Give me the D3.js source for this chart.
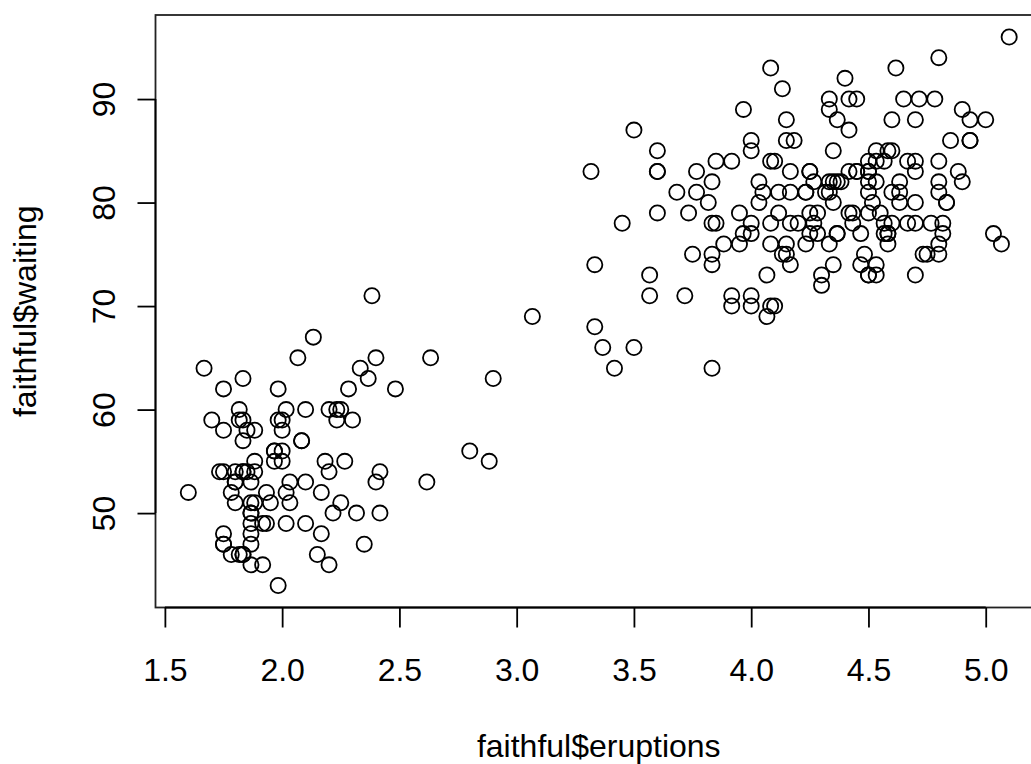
<!DOCTYPE html>
<html>
<head>
<meta charset="utf-8">
<script src="https://cdn.jsdelivr.net/npm/d3@7"></script>
<style>
  html, body { margin: 0; padding: 0; background: #fff; }
  svg { display: block; }
  text { font-family: "Liberation Sans", Arial, Helvetica, sans-serif; fill: #000; }
</style>
</head>
<body>
<svg id="chart" width="1031" height="764"></svg>
<script>
// Old Faithful geyser data (R's faithful)
const eruptions = [3.600,1.800,3.333,2.283,4.533,2.883,4.700,3.600,1.950,4.350,1.833,3.917,4.200,1.750,4.700,2.167,1.750,4.800,1.600,4.250,1.800,1.750,3.450,3.067,4.533,3.600,1.967,4.083,3.850,4.433,4.300,4.467,3.367,4.033,3.833,2.017,1.867,4.833,1.833,4.783,4.350,1.883,4.567,1.750,4.533,3.317,3.833,2.100,4.633,2.000,4.800,4.716,1.833,4.833,1.733,4.883,3.717,1.667,4.567,4.317,2.233,4.500,1.750,4.800,1.817,4.400,4.167,4.700,2.067,4.700,4.033,1.967,4.500,4.000,1.983,5.067,2.017,4.567,3.883,3.600,4.133,4.333,4.100,2.633,4.067,4.933,3.950,4.517,2.167,4.000,2.200,4.333,1.867,4.817,1.833,4.300,4.667,3.750,1.867,4.900,2.483,4.367,2.100,4.500,4.050,1.867,4.700,1.783,4.850,3.683,4.733,2.300,4.900,4.417,1.700,4.633,2.317,4.600,1.817,4.417,2.617,4.067,4.250,1.967,4.600,3.767,1.917,4.500,2.267,4.650,1.867,4.167,2.800,4.333,1.833,4.383,1.883,4.933,2.033,3.733,4.233,2.233,4.533,4.817,4.333,1.983,4.633,2.017,5.100,1.800,5.033,4.000,2.400,4.600,3.567,4.000,4.500,4.083,1.800,3.967,2.200,4.150,2.000,3.833,3.500,4.583,2.367,5.000,1.933,4.617,1.917,2.083,4.583,3.333,4.167,4.333,4.500,2.417,4.000,4.167,1.883,4.583,4.250,3.767,2.033,4.433,4.083,1.833,4.417,2.183,4.800,1.833,4.800,4.100,3.966,4.233,3.500,4.366,2.250,4.667,2.100,4.350,4.133,1.867,4.600,1.783,4.367,3.850,1.933,4.500,2.383,4.700,1.867,3.833,3.417,4.233,2.400,4.800,2.000,4.150,1.867,4.267,1.750,4.483,4.000,4.117,4.083,4.267,3.917,4.550,4.083,2.417,4.183,2.217,4.450,1.883,1.850,4.283,3.950,2.333,4.150,2.350,4.933,2.900,4.583,3.833,2.083,4.367,2.133,4.350,2.200,4.450,3.567,4.500,4.150,3.817,3.917,4.450,2.000,4.283,4.767,4.533,1.850,4.250,1.983,2.250,4.750,4.117,2.150,4.417,1.817,4.467];
const waiting = [79,54,74,62,85,55,88,85,51,85,54,84,78,47,83,52,62,84,52,79,51,47,78,69,74,83,55,76,78,79,73,77,66,80,74,52,48,80,59,90,80,58,84,58,73,83,64,53,82,59,75,90,54,80,54,83,71,64,77,81,59,84,48,82,60,92,78,78,65,73,82,56,79,71,62,76,60,78,76,83,75,82,70,65,73,88,76,80,48,86,60,90,50,78,63,72,84,75,51,82,62,88,49,83,81,47,84,52,86,81,75,59,89,79,59,81,50,85,59,87,53,69,77,56,88,81,45,82,55,90,45,83,56,89,46,82,51,86,53,79,81,60,82,77,76,59,80,49,96,53,77,77,65,81,71,70,81,93,53,89,45,86,58,78,66,76,63,88,52,93,49,57,77,68,81,81,73,50,85,74,55,77,83,83,51,78,84,46,83,55,81,57,76,84,77,81,87,77,51,78,60,82,91,53,78,46,77,84,49,83,71,80,49,75,64,76,53,94,55,76,50,82,54,75,78,79,78,78,70,79,70,54,86,50,90,54,54,77,79,64,75,47,86,63,85,82,57,82,67,74,54,83,73,73,88,80,71,83,56,79,78,84,58,83,43,60,75,81,46,90,46,74];
const xTicks = [1.5, 2.0, 2.5, 3.0, 3.5, 4.0, 4.5, 5.0];
const yTicks = [50, 60, 70, 80, 90];
const xTitle = "faithful$eruptions";
const yTitle = "faithful$waiting";

const svg = d3.select("#chart");
const pLeft = 155.5, pRight = 1042, pTop = 15, pBottom = 607.5;

// R-style 4% range extension
const xr = d3.extent(eruptions), yr = d3.extent(waiting);
const xe = (xr[1] - xr[0]) * 0.04, ye = (yr[1] - yr[0]) * 0.04;
const x = d3.scaleLinear().domain([xr[0] - xe, xr[1] + xe]).range([pLeft, pRight]);
const y = d3.scaleLinear().domain([yr[0] - ye, yr[1] + ye]).range([pBottom, pTop]);

const fontSize = 32;
const lw = 1.8;

// points
svg.append("g").selectAll("circle")
  .data(eruptions.map((e, i) => [e, waiting[i]]))
  .join("circle")
  .attr("cx", d => x(d[0]))
  .attr("cy", d => y(d[1]))
  .attr("r", 7.6)
  .attr("fill", "none")
  .attr("stroke", "#000")
  .attr("stroke-width", lw);

// box
svg.append("rect")
  .attr("x", pLeft).attr("y", pTop)
  .attr("width", pRight - pLeft).attr("height", pBottom - pTop)
  .attr("fill", "none").attr("stroke", "#222").attr("stroke-width", lw);

// x axis
const xAxis = d3.axisBottom(x).tickValues(xTicks).tickFormat(d3.format(".1f"))
  .tickSize(20).tickPadding(0);
const gx = svg.append("g").attr("transform", `translate(0,${pBottom})`).call(xAxis);
gx.select(".domain").remove();
gx.append("line").attr("x1", x(xTicks[0])).attr("x2", x(xTicks[xTicks.length - 1]))
  .attr("stroke", "#000").attr("stroke-width", lw);
gx.selectAll(".tick line").attr("stroke", "#000").attr("stroke-width", lw);
gx.selectAll(".tick text")
  .attr("y", 681 - pBottom).attr("dy", null)
  .style("font-size", fontSize + "px")
  .style("font-family", '"Liberation Sans", Arial, sans-serif')
  .attr("fill", "#000");

// y axis
const yAxis = d3.axisLeft(y).tickValues(yTicks).tickFormat(d3.format("d"))
  .tickSize(18).tickPadding(0);
const gy = svg.append("g").attr("transform", `translate(${pLeft},0)`).call(yAxis);
gy.select(".domain").remove();
gy.append("line").attr("y1", y(yTicks[0])).attr("y2", y(yTicks[yTicks.length - 1]))
  .attr("stroke", "#000").attr("stroke-width", lw);
gy.selectAll(".tick line").attr("stroke", "#000").attr("stroke-width", lw);
gy.selectAll(".tick text")
  .attr("x", null).attr("dy", null)
  .attr("text-anchor", "middle")
  .attr("transform", `translate(${115 - pLeft},0) rotate(-90)`)
  .style("font-size", fontSize + "px")
  .style("font-family", '"Liberation Sans", Arial, sans-serif')
  .attr("fill", "#000");

// titles
svg.append("text")
  .attr("x", (pLeft + pRight) / 2).attr("y", 757)
  .attr("text-anchor", "middle")
  .style("font-size", fontSize + "px")
  .text(xTitle);

svg.append("text")
  .attr("transform", `translate(36,${(pTop + pBottom) / 2}) rotate(-90)`)
  .attr("text-anchor", "middle")
  .style("font-size", fontSize + "px")
  .text(yTitle);
</script>
</body>
</html>
